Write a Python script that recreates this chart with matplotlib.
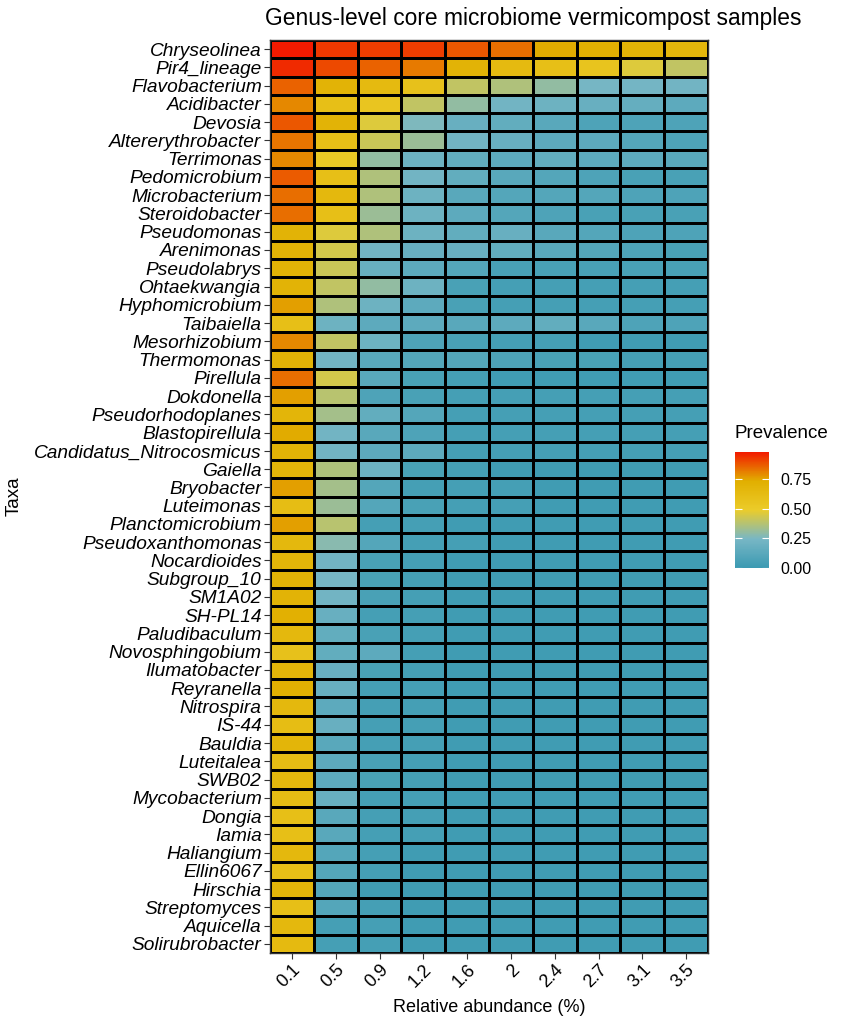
import numpy as np
import matplotlib
matplotlib.use("Agg")
import matplotlib.pyplot as plt
from matplotlib.colors import LinearSegmentedColormap

# Data: prevalence of each genus at increasing detection thresholds
taxa = [
    "Chryseolinea", "Pir4_lineage", "Flavobacterium", "Acidibacter", "Devosia",
    "Altererythrobacter", "Terrimonas", "Pedomicrobium", "Microbacterium",
    "Steroidobacter", "Pseudomonas", "Arenimonas", "Pseudolabrys", "Ohtaekwangia",
    "Hyphomicrobium", "Taibaiella", "Mesorhizobium", "Thermomonas", "Pirellula",
    "Dokdonella", "Pseudorhodoplanes", "Blastopirellula", "Candidatus_Nitrocosmicus",
    "Gaiella", "Bryobacter", "Luteimonas", "Planctomicrobium", "Pseudoxanthomonas",
    "Nocardioides", "Subgroup_10", "SM1A02", "SH-PL14", "Paludibaculum",
    "Novosphingobium", "Ilumatobacter", "Reyranella", "Nitrospira", "IS-44",
    "Bauldia", "Luteitalea", "SWB02", "Mycobacterium", "Dongia", "Iamia",
    "Haliangium", "Ellin6067", "Hirschia", "Streptomyces", "Aquicella",
    "Solirubrobacter",
]

detection = ["0.1", "0.5", "0.9", "1.2", "1.6", "2", "2.4", "2.7", "3.1", "3.5"]

prevalence = [
    [0.98, 0.93, 0.92, 0.92, 0.88, 0.84, 0.74, 0.72, 0.70, 0.67],
    [0.95, 0.90, 0.86, 0.82, 0.70, 0.64, 0.60, 0.56, 0.46, 0.40],
    [0.86, 0.70, 0.64, 0.58, 0.40, 0.36, 0.30, 0.24, 0.23, 0.22],
    [0.80, 0.60, 0.55, 0.40, 0.30, 0.22, 0.20, 0.18, 0.17, 0.14],
    [0.88, 0.70, 0.46, 0.26, 0.18, 0.16, 0.12, 0.08, 0.08, 0.08],
    [0.83, 0.60, 0.42, 0.32, 0.22, 0.18, 0.14, 0.14, 0.10, 0.08],
    [0.80, 0.52, 0.30, 0.20, 0.16, 0.14, 0.16, 0.14, 0.14, 0.12],
    [0.87, 0.60, 0.36, 0.22, 0.16, 0.12, 0.10, 0.08, 0.06, 0.06],
    [0.84, 0.66, 0.36, 0.20, 0.12, 0.10, 0.10, 0.10, 0.08, 0.08],
    [0.84, 0.60, 0.32, 0.20, 0.14, 0.10, 0.08, 0.06, 0.06, 0.06],
    [0.70, 0.46, 0.36, 0.20, 0.16, 0.18, 0.12, 0.10, 0.08, 0.08],
    [0.70, 0.44, 0.22, 0.18, 0.18, 0.16, 0.12, 0.10, 0.08, 0.06],
    [0.70, 0.42, 0.18, 0.14, 0.10, 0.06, 0.06, 0.06, 0.06, 0.06],
    [0.70, 0.40, 0.30, 0.20, 0.06, 0.04, 0.04, 0.04, 0.04, 0.04],
    [0.76, 0.36, 0.20, 0.14, 0.06, 0.04, 0.04, 0.04, 0.04, 0.04],
    [0.60, 0.20, 0.14, 0.14, 0.12, 0.14, 0.16, 0.12, 0.08, 0.08],
    [0.80, 0.40, 0.20, 0.08, 0.06, 0.04, 0.04, 0.02, 0.02, 0.02],
    [0.70, 0.22, 0.12, 0.10, 0.10, 0.08, 0.06, 0.06, 0.04, 0.04],
    [0.84, 0.44, 0.12, 0.06, 0.04, 0.02, 0.02, 0.02, 0.02, 0.02],
    [0.76, 0.38, 0.08, 0.06, 0.04, 0.04, 0.04, 0.04, 0.04, 0.04],
    [0.68, 0.34, 0.16, 0.10, 0.04, 0.04, 0.04, 0.04, 0.04, 0.04],
    [0.74, 0.22, 0.12, 0.08, 0.04, 0.04, 0.04, 0.04, 0.04, 0.04],
    [0.70, 0.22, 0.14, 0.14, 0.04, 0.04, 0.04, 0.04, 0.04, 0.04],
    [0.68, 0.36, 0.20, 0.06, 0.04, 0.02, 0.02, 0.02, 0.02, 0.02],
    [0.76, 0.34, 0.10, 0.04, 0.04, 0.04, 0.02, 0.02, 0.02, 0.02],
    [0.62, 0.32, 0.10, 0.06, 0.04, 0.04, 0.02, 0.02, 0.02, 0.02],
    [0.76, 0.38, 0.04, 0.04, 0.02, 0.02, 0.02, 0.02, 0.02, 0.02],
    [0.66, 0.28, 0.10, 0.04, 0.04, 0.02, 0.02, 0.02, 0.02, 0.02],
    [0.68, 0.22, 0.06, 0.04, 0.02, 0.02, 0.02, 0.02, 0.02, 0.02],
    [0.70, 0.24, 0.06, 0.04, 0.02, 0.02, 0.02, 0.02, 0.02, 0.02],
    [0.70, 0.22, 0.06, 0.04, 0.02, 0.02, 0.02, 0.02, 0.02, 0.02],
    [0.72, 0.18, 0.04, 0.04, 0.02, 0.02, 0.02, 0.02, 0.02, 0.02],
    [0.66, 0.16, 0.06, 0.04, 0.02, 0.02, 0.02, 0.02, 0.02, 0.02],
    [0.58, 0.16, 0.14, 0.04, 0.02, 0.02, 0.02, 0.02, 0.02, 0.02],
    [0.68, 0.18, 0.06, 0.04, 0.02, 0.02, 0.02, 0.02, 0.02, 0.02],
    [0.72, 0.18, 0.04, 0.04, 0.02, 0.02, 0.02, 0.02, 0.02, 0.02],
    [0.66, 0.14, 0.04, 0.04, 0.02, 0.02, 0.02, 0.02, 0.02, 0.02],
    [0.62, 0.18, 0.04, 0.04, 0.02, 0.02, 0.02, 0.02, 0.02, 0.02],
    [0.68, 0.12, 0.04, 0.04, 0.02, 0.02, 0.02, 0.02, 0.02, 0.02],
    [0.62, 0.14, 0.06, 0.04, 0.02, 0.02, 0.02, 0.02, 0.02, 0.02],
    [0.66, 0.14, 0.06, 0.04, 0.02, 0.02, 0.02, 0.02, 0.02, 0.02],
    [0.62, 0.18, 0.04, 0.04, 0.02, 0.02, 0.02, 0.02, 0.02, 0.02],
    [0.60, 0.12, 0.04, 0.04, 0.02, 0.02, 0.02, 0.02, 0.02, 0.02],
    [0.60, 0.12, 0.04, 0.04, 0.02, 0.02, 0.02, 0.02, 0.02, 0.02],
    [0.66, 0.10, 0.04, 0.02, 0.02, 0.02, 0.02, 0.02, 0.02, 0.02],
    [0.60, 0.10, 0.04, 0.02, 0.02, 0.02, 0.02, 0.02, 0.02, 0.02],
    [0.68, 0.10, 0.02, 0.02, 0.02, 0.02, 0.02, 0.02, 0.02, 0.02],
    [0.60, 0.10, 0.04, 0.02, 0.02, 0.02, 0.02, 0.02, 0.02, 0.02],
    [0.66, 0.04, 0.04, 0.02, 0.02, 0.02, 0.02, 0.02, 0.02, 0.02],
    [0.64, 0.04, 0.04, 0.02, 0.02, 0.02, 0.02, 0.02, 0.02, 0.02],
]

# Zissou1-like palette
palette = ["#3B9AB2", "#78B7C5", "#EBCC2A", "#E1AF00", "#F21A00"]

plt.rcParams['font.family'] = ['Liberation Sans', 'DejaVu Sans']

cmap = LinearSegmentedColormap.from_list("zissou", palette)
values = np.array(prevalence)

fig = plt.figure(figsize=(8.48, 10.24), dpi=100)
ax = fig.add_axes([270 / 848, 1 - 953 / 1024, 438 / 848, 913 / 1024])

mesh = ax.pcolormesh(np.arange(len(detection) + 1), np.arange(len(taxa) + 1), values,
                     cmap=cmap, vmin=0, vmax=0.98, edgecolors='black', linewidth=1.8)
ax.set_xlim(0, len(detection))
ax.set_ylim(len(taxa), 0)

ax.set_xticks(np.arange(len(detection)) + 0.5)
ax.set_xticklabels(detection, rotation=45, ha='right', va='top', rotation_mode='anchor',
                   fontsize=13)
ax.set_yticks(np.arange(len(taxa)) + 0.5)
ax.set_yticklabels(taxa, fontstyle='italic', fontsize=13.8)
ax.tick_params(axis='both', length=4, width=0.8, color='#333333', pad=2)
for s in ax.spines.values():
    s.set_color('#333333')
    s.set_linewidth(1.0)

ax.set_xlabel('Relative abundance (%)', fontsize=13, labelpad=6)
ax.set_ylabel('Taxa', fontsize=13.5, labelpad=8)
fig.text(265 / 848, 1 - 18 / 1024, 'Genus-level core microbiome vermicompost samples',
         fontsize=16.4, ha='left', va='center')

# Colour bar legend
cax = fig.add_axes([735 / 848, 1 - 568 / 1024, 34 / 848, 116 / 1024])
cb = fig.colorbar(mesh, cax=cax, ticks=[0, 0.25, 0.5, 0.75])
cb.ax.set_yticklabels(['0.00', '0.25', '0.50', '0.75'])
cb.outline.set_visible(False)
cb.ax.tick_params(length=5, color='white', width=0.8, labelsize=11.5, direction='in',
                  pad=8, left=True)
fig.text(735 / 848, 1 - 434 / 1024, 'Prevalence', fontsize=13.5, ha='left', va='center')

fig.savefig('out.png', dpi=100)
